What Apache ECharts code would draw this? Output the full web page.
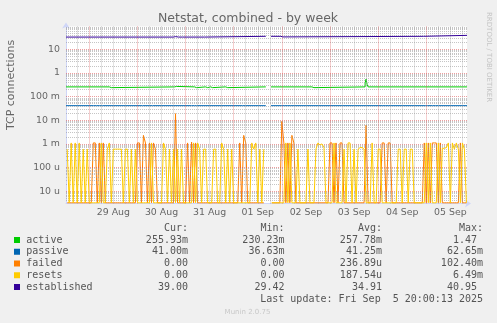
<!DOCTYPE html>
<html><head><meta charset="utf-8">
<script src="https://cdn.jsdelivr.net/npm/echarts@6/dist/echarts.min.js"></script>
<style>html,body{margin:0;padding:0;background:#f0f0f0;}#c{width:497px;height:323px;}</style>
</head><body><div id="c"></div>
<script>
// hourly samples, hours since 28 Aug 00:00, first sample at HOUR0; values in milli (x1e-3)
const HOUR0 = 13;
const resetsMilli = [
  0.6,0,1.1,0,1.1,0,1.1,0,0.6,0,
  0.6,0,0,0,0,0,0,1.1,0,0,
  0.6,1.1,0,0.6,0.6,0.6,0.6,0.6,0,0.6,
  0.6,0,0.6,0,0.6,0,0,0,0,0,
  0,0,1.1,0,0,0,0,0,1.1,0.6,
  0,0.6,0,0.6,0,0.6,0,0.6,0,0,
  0,0,0,1.1,0,1.1,0.6,0,0.6,0.6,
  0,0,0,0.6,0.6,0,0,1.1,0.6,0,
  0.6,0,0.6,0,0,0,0,0,0,0,
  0,0,1.1,0.6,1.1,0,0.6,0,0.6,null,
  null,null,0,0,0,0,0,0,0,1.1,
  0,1.1,0,0,0,0.6,0,0,0,0,
  0.6,0,0,0,0.6,1.1,0.9,1.0,0.7,0,
  0,0,0,1.1,0,0,0,0,0.6,0,
  1.1,1.1,0,0.6,0,0.6,0.7,0.7,0.6,0,
  0,0,1.1,0,0,0.6,0.6,0,0,0,
  0,0,0,0,0,0.6,0.6,0,0.6,0.6,
  0,0.6,0.6,0,0,0,0,0,0,1.1,
  0,1.1,0,0,0,1.1,0,0.65,0.65,0.7,
  1.1,0,1.1,0.6,1.1,0.6,0,1.1,0.6,0
];
const failedMilli = [
  0,0,0,0,0,0,0,0,0,0,
  0,0,0,1.1,1.1,0,1.1,0,1.1,0,
  0,0,0,0,0,0,0,0,0,0,
  0,0,0,0,0,1.1,1.1,0,2.3,1.1,
  0,1.1,0,1.1,0.6,0,0,0,0,0,
  0,0,0,0,19,0,0,0,0,0,
  1.1,0,1.2,0,1.1,0,0,0,0,0,
  0,0,0,0,0,0,0,0,0,0,
  0,0,0,0,0,0,1.1,0,2.3,1.1,
  0,0,0,0,0,0,0,0,0,null,
  null,null,0,0,0,0,0,9,1.1,0,
  1.1,0,2.3,1.1,0,0,0,0,0,0,
  0,0,0,0,0,0,0,0,0,0,
  0,1.1,1.1,0,1.1,0,1.1,1.1,0,0,
  0,0,0,0,0,0,0,0,0,6.2,
  0,0,0,0,0,0,0,1.1,1.1,0,
  1.1,1.1,0,0,0,0,0,0,0,0,
  0,0,0,0,0,0,0,0,1.1,0,
  1.1,0,1.1,1.1,1.1,0,1.1,0,0,0,
  0,0,0,0,0,0,1.1,0,0,0
];
// step change points [hour, value]
const activeSteps = [[12.4,0.258],[34,0.24],[35,0.258],[66.5,0.27],[67.5,0.258],[76.5,0.24],[77.5,0.258],[82,0.24],[83,0.258],[84.5,0.24],[85.5,0.258],[92,0.24],[93,0.258],[111.6,0.258],[112,null],[114.6,0.258],[135,0.24],[136,0.258],[161.5,0.38],[162,0.55],[162.5,0.33],[163,0.258],[212.3,0.258]];
const passiveSteps = [[12.4,0.0415],[26,0.047],[26.5,0.0415],[27.5,0.047],[28,0.0415],[29,0.047],[29.5,0.0415],[30.5,0.047],[31,0.0415],[50.5,0.047],[51,0.0415],[55.5,0.047],[56,0.0415],[75,0.047],[75.5,0.0415],[76.5,0.047],[77,0.0415],[77.5,0.047],[78,0.0415],[100.5,0.047],[101,0.0415],[102,0.047],[102.5,0.0415],[111.6,0.0415],[112,null],[114.6,0.0415],[120,0.047],[120.5,0.0415],[121.5,0.047],[122,0.0415],[123,0.047],[123.5,0.0415],[124.5,0.047],[125,0.0415],[144,0.047],[144.5,0.0415],[146.5,0.047],[147,0.0415],[148,0.047],[148.5,0.0415],[149.5,0.047],[150,0.0415],[170,0.047],[170.5,0.0415],[171.5,0.047],[172,0.0415],[173,0.047],[173.5,0.0415],[191.5,0.047],[192,0.0415],[192.5,0.047],[193,0.0415],[195,0.047],[195.5,0.0415],[196.5,0.047],[197,0.0415],[198,0.047],[198.5,0.0415],[212.3,0.0415]];
const establishedSteps = [[12.4,33],[66,34.5],[67,33],[68.5,34.5],[69,33],[70.5,34.5],[71,33],[81.5,35.5],[111.6,35.5],[112,null],[114.6,35.5],[119.5,33.5],[120.5,35.5],[190.5,39],[212.3,39]];

const xTickHours = [36,60,84,108,132,156,180,204];
const xTickLabels = ['29 Aug','30 Aug','31 Aug','01 Sep','02 Sep','03 Sep','04 Sep','05 Sep'];
const yTickValues = [1e-5,1e-4,1e-3,1e-2,1e-1,1,10];
const yTickLabels = ['10 u','100 u','1 m','10 m','100 m','1','10'];

const legendNames = ['active','passive','failed','resets','established'];
const legendColors = ['#00cc00','#0066b3','#ff8000','#ffcc00','#330099'];
const legendCur = ['255.93m','41.00m','0.00','0.00','39.00'];
const legendMin = ['230.23m','36.63m','0.00','0.00','29.42'];
const legendAvg = ['257.78m','41.25m','236.89u','187.54u','34.91'];
const legendMax = ['1.47 ','62.65m','102.40m','6.49m','40.95 '];

const X_MIN = 12.4, X_MAX = 212.3, Y_MIN = -5.52, Y_MAX = 1.97;
const ZERO_LEVEL = Y_MIN + 0.03; // zero drawn along the bottom edge, as on a log scale
function lg(v){ if (v === null) return '-'; if (v <= 0) return ZERO_LEVEL; return Math.log10(v); }

const minorStyle = {color:'rgba(150,150,150,0.55)', width:1, type:[1,1]};
const majorStyle = {color:'rgba(222,79,79,0.55)', width:1, type:[1,1]};
const gridMarks = [];
for (let d = -6; d <= 1; d++) for (let k = 1; k <= 9; k++) {
  const L = Math.log10(k * Math.pow(10, d));
  if (L > Y_MIN + 0.01 && L < Y_MAX) gridMarks.push({yAxis: L, lineStyle: k === 1 ? majorStyle : minorStyle});
}
for (let h = 18; h < X_MAX; h += 6) gridMarks.push({xAxis: h, lineStyle: h % 24 === 0 ? majorStyle : minorStyle});

const chart = echarts.init(document.getElementById('c'), null, {renderer:'canvas'});
const FONT = 'DejaVu Sans', MONO = 'DejaVu Sans Mono';
const graphics = [
  {type:'text', x:248, y:19, style:{text:'Netstat, combined - by week', fontSize:12.5, fontFamily:FONT, fill:'#666', textAlign:'center', align:'center', textVerticalAlign:'middle', verticalAlign:'middle'}},
  {type:'text', x:11, y:85, rotation:Math.PI/2, style:{text:'TCP connections', fontSize:11, fontFamily:FONT, fill:'#666', textAlign:'center', align:'center', textVerticalAlign:'middle', verticalAlign:'middle'}},
  {type:'text', x:489, y:12, rotation:-Math.PI/2, style:{text:'RRDTOOL / TOBI OETIKER', fontSize:7, fontFamily:FONT, fill:'#c4c4c4', textAlign:'left', align:'left', textVerticalAlign:'middle', verticalAlign:'middle'}},
  {type:'text', x:483, y:299.3, style:{text:'Last update: Fri Sep  5 20:00:13 2025', fontSize:10, fontFamily:MONO, fill:'#555', textAlign:'right', align:'right', textVerticalAlign:'middle', verticalAlign:'middle'}},
  {type:'text', x:247.5, y:312, style:{text:'Munin 2.0.75', fontSize:7, fontFamily:FONT, fill:'#c8c8c8', textAlign:'center', align:'center', textVerticalAlign:'middle', verticalAlign:'middle'}}
];
const colX = [188, 284.5, 382, 483];
const headers = ['Cur:','Min:','Avg:','Max:'];
function monoText(x, y, t, align){
  return {type:'text', x:x, y:y, style:{text:t, fontSize:10, fontFamily:MONO, fill:'#555', textAlign:align, align:align, textVerticalAlign:'middle', verticalAlign:'middle'}};
}
headers.forEach((h,i)=>graphics.push(monoText(colX[i], 228.3, h, 'right')));
const cols = [legendCur, legendMin, legendAvg, legendMax];
legendNames.forEach((n,r)=>{
  const y = 240 + r * 11.75;
  graphics.push({type:'rect', shape:{x:14, y:y-3, width:6, height:6}, style:{fill:legendColors[r]}});
  graphics.push(monoText(26.3, y, n, 'left'));
  cols.forEach((c,i)=>graphics.push(monoText(colX[i], y, c[r], 'right')));
});

function stepSeries(name, pts, color, z){
  return {name, type:'line', step:'end', showSymbol:false, symbol:'none', z, animation:false,
    lineStyle:{width:1, color}, data: pts.map(p=>[p[0], lg(p[1])])};
}
function hourlySeries(name, vals, color, z){
  return {name, type:'line', showSymbol:false, symbol:'none', z, animation:false,
    lineStyle:{width:1, color}, data: vals.map((v,i)=>[HOUR0+i, v===null ? '-' : lg(v*1e-3)])};
}

chart.setOption({
  animation:false,
  backgroundColor:'#f0f0f0',
  grid:{left:66, top:26.4, width:401, height:177.1, show:true, backgroundColor:'#ffffff', borderWidth:0},
  xAxis:{type:'value', min:X_MIN, max:X_MAX,
    axisLine:{show:true, onZero:false, lineStyle:{color:'#cfd6f8', width:1}, symbol:['none','arrow'], symbolSize:[6,6], symbolOffset:[0,4]},
    axisTick:{show:false}, splitLine:{show:false},
    axisLabel:{customValues:xTickHours, formatter:(v)=>xTickLabels[xTickHours.indexOf(v)] || '', fontSize:9.4, fontFamily:FONT, color:'#666', margin:5}},
  yAxis:{type:'value', min:Y_MIN, max:Y_MAX,
    axisLine:{show:true, onZero:false, lineStyle:{color:'#cfd6f8', width:1}, symbol:['none','arrow'], symbolSize:[6,6], symbolOffset:[0,4]},
    axisTick:{show:false}, splitLine:{show:false},
    axisLabel:{customValues:yTickValues.map(v=>Math.log10(v)), formatter:(v)=>{const i=yTickValues.findIndex(t=>Math.abs(Math.log10(t)-v)<1e-6); return i>=0?yTickLabels[i]:'';}, fontSize:9.4, fontFamily:FONT, color:'#666', margin:6}},
  series:[
    {type:'line', data:[], z:1, silent:true, markLine:{silent:true, symbol:['none','none'], label:{show:false}, animation:false, data:gridMarks}},
    stepSeries('active', activeSteps, legendColors[0], 2),
    stepSeries('passive', passiveSteps, legendColors[1], 3),
    hourlySeries('failed', failedMilli, legendColors[2], 4),
    hourlySeries('resets', resetsMilli, legendColors[3], 5),
    stepSeries('established', establishedSteps, legendColors[4], 6)
  ],
  graphic:graphics
});
</script></body></html>
